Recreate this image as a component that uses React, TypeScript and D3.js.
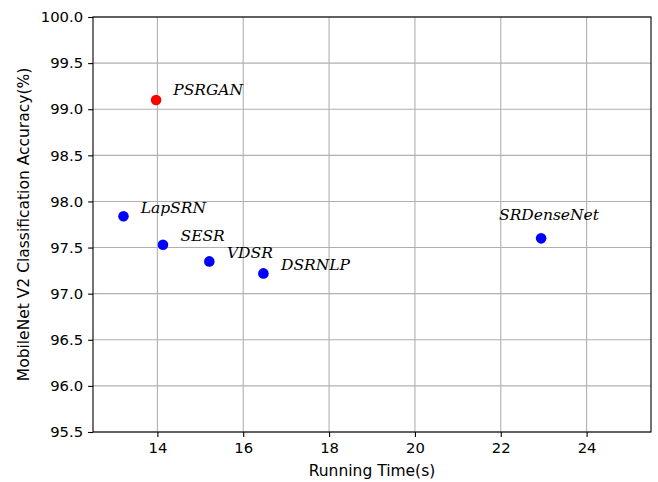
import * as d3 from "d3";
import { useEffect, useRef } from "react";

// methods, running time (s) and accuracy (%)
const methods = ["PSRGAN", "LapSRN", "SESR", "VDSR", "DSRNLP", "SRDenseNet"];
const runTimes = [13.97, 13.21, 14.13, 15.21, 16.47, 22.94];
const accuracies = [99.1, 97.84, 97.53, 97.35, 97.22, 97.6];
// where each name is written, in data units
const labelTimes = [14.37, 13.61, 14.54, 15.62, 16.88, 21.96];
const labelAccs = [99.15, 97.87, 97.57, 97.39, 97.26, 97.8];
const pointColors = ["#ff0000", "#0000ff", "#0000ff", "#0000ff", "#0000ff", "#0000ff"];

const xTicks = [14, 16, 18, 20, 22, 24];
const yTicks = [95.5, 96, 96.5, 97, 97.5, 98, 98.5, 99, 99.5, 100];

const width = 658;
const height = 482;
const marginLeft = 93;
const marginRight = 7;
const marginTop = 17;
const marginBottom = 50;

const App = () => {
  const ref = useRef<SVGSVGElement>(null);

  useEffect(() => {
    const svg = d3.select(ref.current);
    svg.selectAll("*").remove();

    const xScale = d3
      .scaleLinear()
      .domain([12.5, 25.5])
      .range([marginLeft, width - marginRight]);
    const yScale = d3
      .scaleLinear()
      .domain([95.5, 100])
      .range([height - marginBottom, marginTop]);

    const font = "'DejaVu Sans', sans-serif";

    // grid
    const grid = svg.append("g");
    grid
      .selectAll("line.vx")
      .data(xTicks)
      .enter()
      .append("line")
      .attr("x1", (d) => xScale(d))
      .attr("x2", (d) => xScale(d))
      .attr("y1", marginTop)
      .attr("y2", height - marginBottom)
      .attr("stroke", "#b0b0b0")
      .attr("stroke-width", 1.1);
    grid
      .selectAll("line.hy")
      .data(yTicks)
      .enter()
      .append("line")
      .attr("x1", marginLeft)
      .attr("x2", width - marginRight)
      .attr("y1", (d) => yScale(d))
      .attr("y2", (d) => yScale(d))
      .attr("stroke", "#b0b0b0")
      .attr("stroke-width", 1.1);

    // axes
    const xAxis = d3
      .axisBottom(xScale)
      .tickValues(xTicks)
      .tickFormat(d3.format("d"))
      .tickSizeOuter(0)
      .tickSize(4.9)
      .tickPadding(6);
    const yAxis = d3
      .axisLeft(yScale)
      .tickValues(yTicks)
      .tickFormat(d3.format(".1f"))
      .tickSizeOuter(0)
      .tickSize(4.9)
      .tickPadding(5);

    const gx = svg
      .append("g")
      .attr("transform", `translate(0, ${height - marginBottom})`)
      .call(xAxis);
    const gy = svg
      .append("g")
      .attr("transform", `translate(${marginLeft}, 0)`)
      .call(yAxis);
    [gx, gy].forEach((g) => {
      g.select(".domain").remove();
      g.selectAll("line").attr("stroke", "#000").attr("stroke-width", 1.1);
      g.selectAll("text")
        .attr("fill", "#000")
        .style("font-family", font)
        .style("font-size", "14.8px");
    });

    // frame
    svg
      .append("rect")
      .attr("x", marginLeft)
      .attr("y", marginTop)
      .attr("width", width - marginLeft - marginRight)
      .attr("height", height - marginTop - marginBottom)
      .attr("fill", "none")
      .attr("stroke", "#000")
      .attr("stroke-width", 1.1);

    // points
    svg
      .append("g")
      .selectAll("circle")
      .data(methods)
      .enter()
      .append("circle")
      .attr("cx", (_, i) => xScale(runTimes[i]))
      .attr("cy", (_, i) => yScale(accuracies[i]))
      .attr("r", 5.3)
      .attr("fill", (_, i) => pointColors[i]);

    // names
    svg
      .append("g")
      .selectAll("text")
      .data(methods)
      .enter()
      .append("text")
      .attr("x", (_, i) => xScale(labelTimes[i]))
      .attr("y", (_, i) => yScale(labelAccs[i]))
      .style("font-family", "'DejaVu Serif', serif")
      .style("font-style", "italic")
      .style("font-size", "15.5px")
      .text((d) => d);

    // axis titles
    svg
      .append("text")
      .attr("x", (marginLeft + width - marginRight) / 2)
      .attr("y", height - 6)
      .attr("text-anchor", "middle")
      .style("font-family", font)
      .style("font-size", "15.5px")
      .text("Running Time(s)");
    svg
      .append("text")
      .attr(
        "transform",
        `translate(29.3, ${(marginTop + height - marginBottom) / 2}) rotate(-90)`
      )
      .attr("text-anchor", "middle")
      .style("font-family", font)
      .style("font-size", "15.5px")
      .text("MobileNet V2 Classification Accuracy(%)");
  }, []);

  return (
    <svg
      ref={ref}
      width={width}
      height={height}
      style={{ position: "absolute", left: 0, top: 0, background: "#fff" }}
    />
  );
};

export default App;
